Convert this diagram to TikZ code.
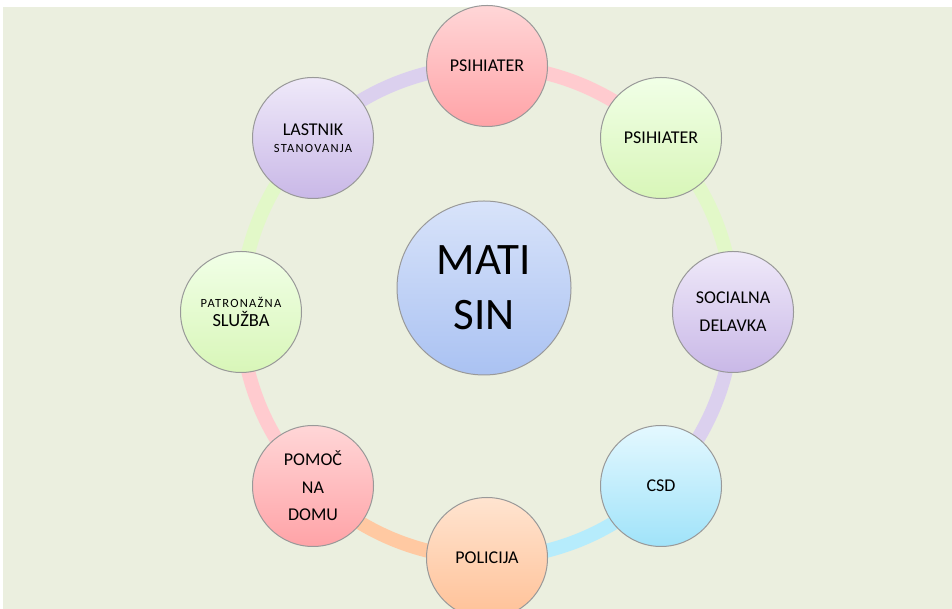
\documentclass[tikz,border=0pt]{standalone}
\usepackage{fontspec}
\setmainfont{Carlito}
\usetikzlibrary{backgrounds}
\definecolor{bgcol}{HTML}{EBEFDF}
\definecolor{pinktop}{HTML}{FFD6D7}
\definecolor{pinkbot}{HTML}{FFA3A7}
\definecolor{greentop}{HTML}{F1FFE7}
\definecolor{greenbot}{HTML}{D8F6B8}
\definecolor{lavtop}{HTML}{EFE9F9}
\definecolor{lavbot}{HTML}{C9B8E7}
\definecolor{bluetop}{HTML}{E4F8FF}
\definecolor{bluebot}{HTML}{A0E3F9}
\definecolor{orangetop}{HTML}{FFE4D0}
\definecolor{orangebot}{HTML}{FFC197}
\definecolor{midtop}{HTML}{D8E3FA}
\definecolor{midbot}{HTML}{AAC2F2}
\definecolor{pinkring}{HTML}{FFCBCF}
\definecolor{greenring}{HTML}{E2F8C8}
\definecolor{lavring}{HTML}{DBD0EE}
\definecolor{bluering}{HTML}{B6ECFC}
\definecolor{orangering}{HTML}{FFC9A2}

\begin{document}
\begin{tikzpicture}[x=1pt,y=1pt,
        member/.style={circle, draw=gray!80, line width=1pt, minimum size=121pt, inner sep=0pt, align=center, font=\fontsize{18}{28}\selectfont},
        ringseg/.style={line width=14pt}]
        \useasboundingbox (0,0) rectangle (952,609);

        \node[member, top color=pinktop, bottom color=pinkbot] (psih) at (487,543) {PSIHIATER};
        \node[member, top color=greentop, bottom color=greenbot] (psihb) at (661,471) {PSIHIATER};
        \node[member, top color=lavtop, bottom color=lavbot] (soc) at (733,297) {SOCIALNA\\DELAVKA};
        \node[member, top color=bluetop, bottom color=bluebot] (csd) at (661,123) {CSD};
        \node[member, top color=orangetop, bottom color=orangebot] (pol) at (487,51) {POLICIJA};
        \node[member, top color=pinktop, bottom color=pinkbot, font=\fontsize{18}{27.5}\selectfont] (pom) at (313,123) {POMOČ\\NA\\DOMU};
        \node[member, top color=greentop, bottom color=greenbot, font=\fontsize{18.5}{19}\selectfont] (pat) at (241,297) {{\fontsize{12.5}{19}\selectfont\addfontfeature{LetterSpace=10}PATRONAŽNA}\\SLUŽBA};
        \node[member, top color=lavtop, bottom color=lavbot, font=\fontsize{18}{17}\selectfont] (last) at (313,471) {LASTNIK\\{\fontsize{12.5}{17}\selectfont\addfontfeature{LetterSpace=10}STANOVANJA}};

        \node[member, minimum size=174pt, top color=midtop, bottom color=midbot, font=\fontsize{45}{55}\selectfont] (matisin) at (484,321) {MATI\\SIN};

        \begin{scope}[on background layer]
        \fill[bgcol] (3,0) rectangle (952,602);
        % ring between neighbours
        \draw[ringseg, pinkring] (psih.center) arc[start angle=90, end angle=45, radius=246];
        \draw[ringseg, greenring] (psihb.center) arc[start angle=45, end angle=0, radius=246];
        \draw[ringseg, lavring] (soc.center) arc[start angle=0, end angle=-45, radius=246];
        \draw[ringseg, bluering] (csd.center) arc[start angle=-45, end angle=-90, radius=246];
        \draw[ringseg, orangering] (pol.center) arc[start angle=-90, end angle=-135, radius=246];
        \draw[ringseg, pinkring] (pom.center) arc[start angle=-135, end angle=-180, radius=246];
        \draw[ringseg, greenring] (pat.center) arc[start angle=180, end angle=135, radius=246];
        \draw[ringseg, lavring] (last.center) arc[start angle=135, end angle=90, radius=246];
        \end{scope}
\end{tikzpicture}
\end{document}
